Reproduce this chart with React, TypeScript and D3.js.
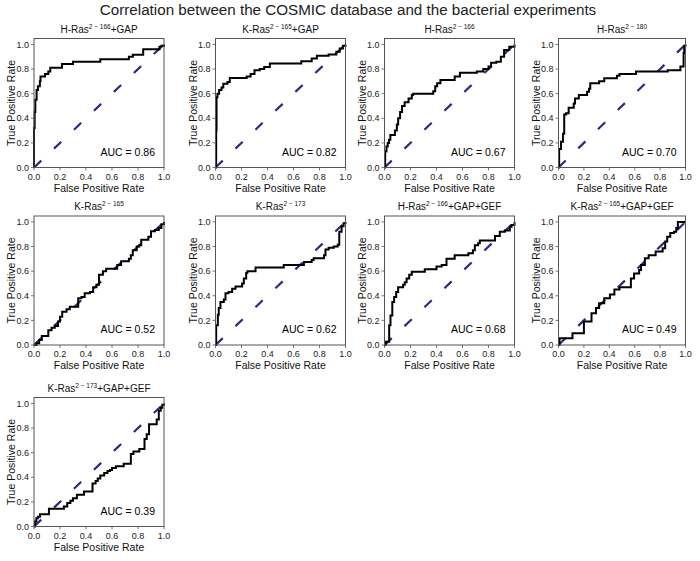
import React from "react";
import * as d3 from "d3";

const TITLE = "Correlation between the COSMIC database and the bacterial experiments";
const panelProteins = ["H-Ras", "K-Ras", "H-Ras", "H-Ras", "K-Ras", "K-Ras", "H-Ras", "K-Ras", "K-Ras"];
const panelRanges = ["2 − 166", "2 − 165", "2 − 166", "2 − 180", "2 − 165", "2 − 173", "2 − 166", "2 − 165", "2 − 173"];
const panelSuffixes = ["+GAP", "+GAP", "", "", "", "", "+GAP+GEF", "+GAP+GEF", "+GAP+GEF"];
const aucValues = ["0.86", "0.82", "0.67", "0.70", "0.52", "0.62", "0.68", "0.49", "0.39"];
const tickValues = [0, 0.2, 0.4, 0.6, 0.8, 1.0];

type P = [number, number];

const roc1: P[] = [[0, 0], [0, 0.32], [0.005, 0.45], [0.01, 0.55], [0.02, 0.63], [0.03, 0.66], [0.045, 0.7], [0.05, 0.74], [0.085, 0.76], [0.11, 0.78], [0.125, 0.81], [0.215, 0.84], [0.3, 0.86], [0.51, 0.88], [0.73, 0.9], [0.76, 0.915], [0.84, 0.96], [0.965, 0.98], [0.98, 0.99], [1, 1]];
const roc2: P[] = [[0, 0], [0.005, 0.3], [0.008, 0.57], [0.015, 0.6], [0.028, 0.63], [0.046, 0.65], [0.06, 0.68], [0.092, 0.695], [0.11, 0.727], [0.24, 0.74], [0.27, 0.76], [0.3, 0.79], [0.34, 0.8], [0.375, 0.817], [0.418, 0.845], [0.66, 0.864], [0.74, 0.886], [0.78, 0.907], [0.87, 0.918], [0.93, 0.94], [0.956, 0.967], [0.98, 0.99], [1, 1]];
const roc3: P[] = [[0, 0], [0.005, 0.13], [0.015, 0.17], [0.025, 0.2], [0.035, 0.225], [0.045, 0.265], [0.08, 0.3], [0.095, 0.35], [0.105, 0.4], [0.12, 0.45], [0.135, 0.5], [0.155, 0.53], [0.185, 0.56], [0.21, 0.59], [0.22, 0.6], [0.375, 0.62], [0.39, 0.66], [0.405, 0.685], [0.43, 0.71], [0.54, 0.74], [0.58, 0.77], [0.71, 0.78], [0.76, 0.8], [0.8, 0.82], [0.82, 0.85], [0.86, 0.86], [0.895, 0.9], [0.92, 0.955], [0.96, 0.98], [1, 1]];
const roc4: P[] = [[0, 0], [0.005, 0.15], [0.02, 0.21], [0.035, 0.275], [0.045, 0.43], [0.06, 0.44], [0.08, 0.485], [0.12, 0.52], [0.13, 0.56], [0.16, 0.59], [0.225, 0.615], [0.24, 0.64], [0.25, 0.685], [0.32, 0.7], [0.36, 0.725], [0.46, 0.745], [0.48, 0.76], [0.61, 0.78], [0.86, 0.79], [0.96, 0.82], [0.985, 0.93], [0.99, 0.99], [1, 1]];
const roc5: P[] = [[0, 0], [0.02, 0.014], [0.04, 0.04], [0.06, 0.073], [0.11, 0.12], [0.135, 0.14], [0.16, 0.155], [0.185, 0.19], [0.2, 0.23], [0.217, 0.27], [0.25, 0.29], [0.275, 0.31], [0.34, 0.38], [0.365, 0.39], [0.39, 0.42], [0.43, 0.43], [0.455, 0.47], [0.48, 0.49], [0.5, 0.57], [0.53, 0.6], [0.555, 0.62], [0.64, 0.65], [0.67, 0.68], [0.73, 0.7], [0.745, 0.73], [0.76, 0.77], [0.79, 0.8], [0.81, 0.81], [0.825, 0.855], [0.88, 0.88], [0.9, 0.925], [0.93, 0.935], [0.96, 0.95], [0.98, 0.98], [1, 1]];
const roc6: P[] = [[0, 0], [0.005, 0.16], [0.018, 0.245], [0.025, 0.3], [0.038, 0.35], [0.064, 0.37], [0.077, 0.42], [0.1, 0.43], [0.128, 0.456], [0.154, 0.475], [0.205, 0.5], [0.218, 0.54], [0.236, 0.585], [0.245, 0.6], [0.308, 0.63], [0.525, 0.65], [0.68, 0.674], [0.74, 0.69], [0.755, 0.705], [0.835, 0.73], [0.846, 0.775], [0.87, 0.79], [0.91, 0.8], [0.94, 0.815], [0.952, 0.92], [0.97, 0.965], [0.985, 0.99], [1, 1]];
const roc7: P[] = [[0, 0], [0.01, 0.027], [0.036, 0.16], [0.046, 0.24], [0.06, 0.35], [0.074, 0.39], [0.09, 0.43], [0.105, 0.47], [0.143, 0.49], [0.156, 0.51], [0.17, 0.54], [0.19, 0.57], [0.21, 0.596], [0.31, 0.615], [0.4, 0.637], [0.44, 0.65], [0.477, 0.7], [0.54, 0.73], [0.645, 0.745], [0.68, 0.77], [0.695, 0.81], [0.72, 0.827], [0.733, 0.848], [0.85, 0.885], [0.887, 0.92], [0.925, 0.93], [0.964, 0.96], [0.978, 0.975], [1, 1]];
const roc8: P[] = [[0, 0], [0.008, 0.054], [0.11, 0.095], [0.2, 0.19], [0.26, 0.257], [0.295, 0.3], [0.32, 0.34], [0.36, 0.38], [0.405, 0.41], [0.44, 0.45], [0.48, 0.47], [0.57, 0.54], [0.595, 0.58], [0.635, 0.61], [0.65, 0.65], [0.68, 0.705], [0.71, 0.73], [0.765, 0.76], [0.82, 0.785], [0.84, 0.84], [0.856, 0.88], [0.88, 0.91], [0.91, 0.92], [0.927, 0.95], [0.94, 1.0], [1, 1]];
const roc9: P[] = [[0, 0], [0.008, 0.04], [0.018, 0.068], [0.03, 0.08], [0.046, 0.1], [0.115, 0.144], [0.23, 0.163], [0.256, 0.19], [0.28, 0.21], [0.3, 0.23], [0.33, 0.258], [0.385, 0.285], [0.45, 0.35], [0.474, 0.37], [0.49, 0.39], [0.51, 0.415], [0.54, 0.435], [0.565, 0.45], [0.585, 0.46], [0.6, 0.475], [0.63, 0.49], [0.69, 0.51], [0.745, 0.59], [0.765, 0.61], [0.81, 0.63], [0.85, 0.71], [0.867, 0.75], [0.885, 0.83], [0.944, 0.87], [0.96, 0.94], [0.975, 0.965], [0.987, 0.99], [1, 1]];

const rocCurves = [roc1, roc2, roc3, roc4, roc5, roc6, roc7, roc8, roc9];
const diagonal: P[] = [[0, 0], [1, 1]];

const colLefts = [34, 215.5, 384.5, 558.5];
const colWidths = [130, 130, 130, 127];
const rowTops = [38.5, 216, 397.5];
const PH = 129;
const FONT = "'Liberation Sans', Arial, Helvetica, sans-serif";

function Panel({ idx }: { idx: number }) {
  const col = idx % 4;
  const row = Math.floor(idx / 4);
  const left = colLefts[col];
  const top = rowTops[row];
  const w = colWidths[col];
  const h = PH;
  const x = d3.scaleLinear().domain([0, 1]).range([0, w]);
  const y = d3.scaleLinear().domain([0, 1.048]).range([h, 0]);
  const line = d3.line<P>().x((d) => x(d[0])).y((d) => y(d[1])).curve(d3.curveStepAfter);
  const diag = d3.line<P>().x((d) => x(d[0])).y((d) => y(d[1]));
  return (
    <g transform={`translate(${left},${top})`} fontFamily={FONT}>
      <text x={w / 2} y={-6} textAnchor="middle" fontSize={10} fill="#111">
        {panelProteins[idx]}
        <tspan fontSize={6.5} dy={-4}>{panelRanges[idx]}</tspan>
        <tspan dy={4}>{panelSuffixes[idx]}</tspan>
      </text>
      <path d={diag(diagonal) || ""} fill="none" stroke="#2a2a80" strokeWidth={2.2} strokeDasharray="10,17.5" />
      <path d={line(rocCurves[idx]) || ""} fill="none" stroke="#000" strokeWidth={2} strokeLinejoin="miter" />
      <rect x={0} y={0} width={w} height={h} fill="none" stroke="#555" strokeWidth={1} />
      {tickValues.map((t) => (
        <g key={"x" + t}>
          <line x1={x(t)} x2={x(t)} y1={h} y2={h + 3} stroke="#555" strokeWidth={0.8} />
          <text x={x(t)} y={h + 12} textAnchor="middle" fontSize={9} fill="#222">{t.toFixed(1)}</text>
        </g>
      ))}
      {tickValues.map((t) => (
        <g key={"y" + t}>
          <line x1={-3} x2={0} y1={y(t)} y2={y(t)} stroke="#555" strokeWidth={0.8} />
          <text x={-5} y={y(t) + 3.2} textAnchor="end" fontSize={9} fill="#222">{t.toFixed(1)}</text>
        </g>
      ))}
      <text x={w / 2} y={h + 24} textAnchor="middle" fontSize={10.5} fill="#111">False Positive Rate</text>
      <text transform={`translate(${-19},${h / 2}) rotate(-90)`} textAnchor="middle" fontSize={10.5} fill="#111">True Positive Rate</text>
      <text x={w - 9} y={h - 12} textAnchor="end" fontSize={10.5} fill="#000">{`AUC = ${aucValues[idx]}`}</text>
    </g>
  );
}

export default function App() {
  return (
    <svg width={700} height={561} style={{ position: "absolute", left: 0, top: 0, background: "#fff" }}>
      <rect x={0} y={0} width={700} height={561} fill="#fff" />
      <text x={348} y={14.5} textAnchor="middle" fontSize={15.2} fontFamily={FONT} fill="#222">{TITLE}</text>
      {rocCurves.map((_, i) => (
        <Panel key={i} idx={i} />
      ))}
    </svg>
  );
}
